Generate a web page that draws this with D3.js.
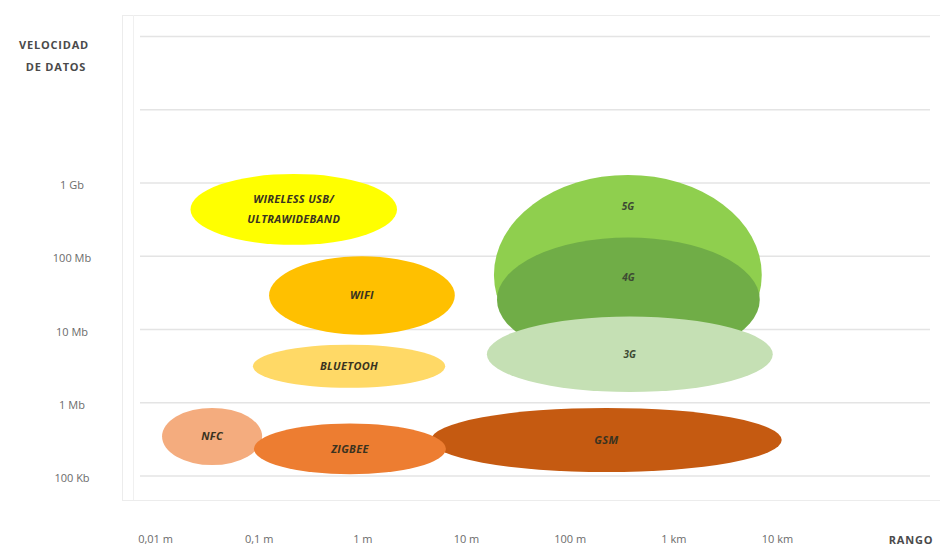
<!DOCTYPE html>
<html>
<head>
<meta charset="utf-8">
<script src="https://cdn.jsdelivr.net/npm/d3@7"></script>
<style>
  html, body { margin: 0; padding: 0; background: #fff; }
  svg { display: block; }
</style>
</head>
<body>
<svg id="chart" width="940" height="549"></svg>
<script>
// ---- data ----
const techs   = ["WIRELESS USB/\nULTRAWIDEBAND", "WIFI", "BLUETOOH", "NFC", "GSM", "ZIGBEE", "5G", "4G", "3G"];
const rangeMin = [0.022, 0.126, 0.088, 0.0117, 4.6, 0.09, 18.6, 19.9, 15.9];       // metres
const rangeMax = [2.16, 7.8, 6.3, 0.108, 11100, 6.4, 7130, 6820, 9100];           // metres
const rateMin  = [1.43e8, 8.5e6, 1.6e6, 1.41e5, 1.13e5, 1.06e5, 2.41e6, 3.63e6, 1.4e6]; // bit/s
const rateMax  = [1.33e9, 1e8, 6.2e6, 8.5e5, 8.5e5, 5.2e5, 1.29e9, 1.8e8, 1.5e7];     // bit/s

const xTickValues = [0.01, 0.1, 1, 10, 100, 1000, 10000];
const xTickLabels = ["0,01 m", "0,1 m", "1 m", "10 m", "100 m", "1 km", "10 km"];
const yTickValues = [1e5, 1e6, 1e7, 1e8, 1e9];
const yTickLabels = ["100 Kb", "1 Mb", "10 Mb", "100 Mb", "1 Gb"];
const gridValues  = [1e5, 1e6, 1e7, 1e8, 1e9, 1e10, 1e11];

// styles (kept apart from data)
const fills = ["#FFFF00", "#FFC000", "#FFD966", "#F4AC7E", "#C55A11", "#ED7D31", "#8FCF4E", "#70AD47", "#C5E0B4"];
const FONT = "'Open Sans', Lato, sans-serif";

// ---- scales ----
const svg = d3.select("#chart");
const x = d3.scaleLog().domain([0.01, 10000]).range([155, 777]);
const y = d3.scaleLog().domain([1e5, 1e9]).range([476, 183]);

// frame
svg.append("rect").attr("x", 122.5).attr("y", 15.5).attr("width", 830).attr("height", 485)
  .attr("fill", "none").attr("stroke", "#ececec").attr("stroke-width", 1);
svg.append("line").attr("x1", 133.5).attr("x2", 133.5).attr("y1", 15).attr("y2", 500)
  .attr("stroke", "#f0f0f0");

// gridlines
svg.append("g").selectAll("line").data(gridValues).join("line")
  .attr("x1", 140).attr("x2", 930)
  .attr("y1", d => y(d)).attr("y2", d => y(d))
  .attr("stroke", "#e4e4e4").attr("stroke-width", 1.5);

// axes
const xAxis = d3.axisBottom(x).tickValues(xTickValues)
  .tickFormat((d, i) => xTickLabels[i]).tickSize(0).tickPadding(0);
const gx = svg.append("g").attr("transform", "translate(0,535)").call(xAxis);
gx.select(".domain").remove();
gx.selectAll("text").attr("font-family", FONT)
  .attr("font-size", 11).attr("fill", "#6b6b6b");

const yAxis = d3.axisLeft(y).tickValues(yTickValues)
  .tickFormat((d, i) => yTickLabels[i]).tickSize(0).tickPadding(0);
const gy = svg.append("g").attr("transform", "translate(72,2)").call(yAxis);
gy.select(".domain").remove();
gy.selectAll("text").attr("text-anchor", "middle")
  .attr("font-family", FONT)
  .attr("font-size", 11).attr("fill", "#6b6b6b");

// axis titles
function title(tx, ty, s) {
  svg.append("text").attr("x", tx).attr("y", ty).attr("text-anchor", "middle")
    .attr("font-family", FONT).attr("font-weight", "bold").attr("font-size", 11)
    .attr("letter-spacing", 0.8).attr("fill", "#4a4a4a").text(s);
}
title(54, 49, "VELOCIDAD");
title(56, 71, "DE DATOS");
title(911, 544, "RANGO");

// shapes
const items = techs.map((name, i) => {
  const x0 = x(rangeMin[i]), x1 = x(rangeMax[i]);
  const yb = y(rateMin[i]), yt = y(rateMax[i]);
  return { name, i, x0, x1, cx: (x0 + x1) / 2, rx: (x1 - x0) / 2,
           cy: (yb + yt) / 2, ry: (yb - yt) / 2, top: yt, bottom: yb };
});
// label position: centre, or (when the next shape is stacked over this one)
// midway between this shape's top and the next shape's top
items.forEach((d, k) => {
  const n = items[k + 1];
  if (n && n.cx > d.x0 && n.cx < d.x1 && n.top > d.top && n.top < d.bottom) d.ly = (d.top + n.top) / 2;
  else d.ly = d.cy;
});

svg.append("g").selectAll("ellipse").data(items).join("ellipse")
  .attr("cx", d => d.cx).attr("cy", d => d.cy)
  .attr("rx", d => d.rx).attr("ry", d => d.ry)
  .attr("fill", d => fills[d.i]);

// labels
const isG = d => /^\dG$/.test(d.name);
const lab = svg.append("g").selectAll("text").data(items).join("text")
  .attr("x", d => d.cx)
  .attr("y", d => d.ly)
  .attr("text-anchor", "middle")
  .attr("font-family", FONT)
  .attr("font-weight", "bold")
  .attr("font-style", "italic")
  .attr("font-size", d => isG(d) ? 10 : 11)
  .attr("letter-spacing", d => isG(d) ? 0 : 0.3)
  .attr("fill", d => isG(d) ? "#3d4a33" : "#3a3320");
lab.each(function(d) {
  const lines = d.name.split("\n");
  const t = d3.select(this);
  lines.forEach((ln, j) => {
    t.append("tspan").attr("x", d.cx)
      .attr("dy", j === 0 ? ((-(lines.length - 1) * 20) / 2 + 4) : 20)
      .text(ln);
  });
});
</script>
</body>
</html>
